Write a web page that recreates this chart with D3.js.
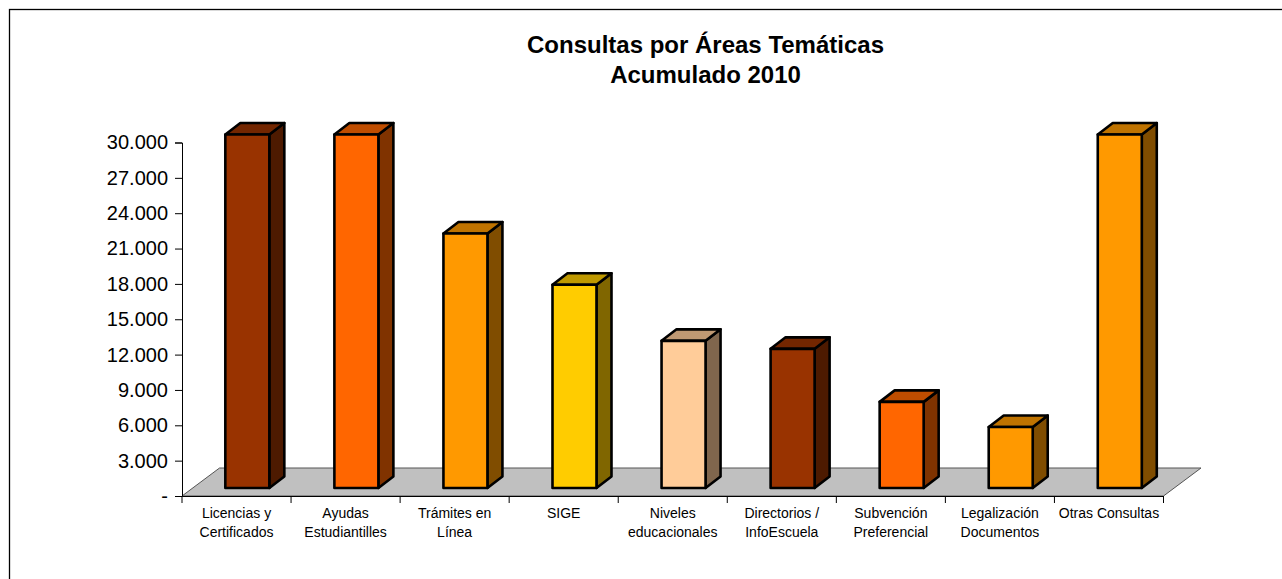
<!DOCTYPE html>
<html>
<head>
<meta charset="utf-8">
<script src="https://cdn.jsdelivr.net/npm/d3@7"></script>
<style>
html, body { margin: 0; padding: 0; background: #fff; overflow: hidden; }
text { font-family: "Liberation Sans", Arial, sans-serif; fill: #000; }
</style>
</head>
<body>
<div id="chart"></div>
<script>
const titleLines = ["Consultas por Áreas Temáticas", "Acumulado 2010"];
const categories = [
	"Licencias y|Certificados", "Ayudas|Estudiantilles", "Trámites en|Línea",
	"SIGE", "Niveles|educacionales", "Directorios /|InfoEscuela",
	"Subvención|Preferencial", "Legalización|Documentos", "Otras Consultas"
];
const values = [30000, 30000, 21600, 17250, 12490, 11810, 7310, 5180, 30000];
const fronts = ["#993300", "#ff6600", "#ff9900", "#ffcc00", "#ffcc99", "#993300", "#ff6600", "#ff9900", "#ff9900"];
const tickValues = d3.range(0, 30001, 3000);

const w = 1282, h = 579;
const axisLeft = 182, axisRight = 1163.5, axisBottom = 496, axisTop = 142.5;

// depth of the floor and of each bar, the bars stand in the middle of the floor
const floorDepth = { x: 37.5, y: -28 };
const barDepth = { x: 15, y: -11.5 };
const barShift = { x: 10.8, y: -8 };

// excel style shading, top and side are the front colour made darker
const shade = (c, k) => {
	let r = d3.rgb(c);
	return d3.rgb(r.r * k, r.g * k, r.b * k).formatHex();
};

let svg = d3.select("#chart").append("svg").attr("width", w).attr("height", h);

svg.append("rect")
	.attr("x", 9.5).attr("y", 9.5)
	.attr("width", 1290).attr("height", 590)
	.attr("fill", "#fff").attr("stroke", "#000").attr("stroke-width", 1.3);

svg.append("text")
	.attr("text-anchor", "middle")
	.attr("font-weight", "bold")
	.attr("font-size", 24)
	.selectAll("tspan")
	.data(titleLines)
	.join("tspan")
	.attr("x", 705.5)
	.attr("y", (d, i) => 52.5 + i * 30)
	.text(d => d);

let x = d3.scaleBand().domain(categories).range([axisLeft, axisRight]);
let y = d3.scaleLinear().domain([0, 30000]).range([axisBottom, axisTop]);

// floor
let line = d3.line();
svg.append("path")
	.attr("d", line([
		[axisLeft, axisBottom],
		[axisLeft + floorDepth.x, axisBottom + floorDepth.y],
		[axisRight + floorDepth.x, axisBottom + floorDepth.y],
		[axisRight, axisBottom]
	]) + "Z")
	.attr("fill", "#c0c0c0")
	.attr("stroke", "#555")
	.attr("stroke-width", 1);

// axes
let yAxis = d3.axisLeft(y)
	.tickValues(tickValues)
	.tickSize(7)
	.tickPadding(7)
	.tickFormat(d => d === 0 ? "-" : d3.format(",")(d).replace(/,/g, "."));
let yG = svg.append("g").attr("transform", `translate(${axisLeft},0)`).call(yAxis);
yG.selectAll("text").attr("font-size", 20);

let xAxis = d3.axisBottom(x).tickValues([]).tickSize(0);
let xG = svg.append("g").attr("transform", `translate(0,${axisBottom})`).call(xAxis);
xG.selectAll(".tick-mark")
	.data(d3.range(categories.length + 1))
	.join("line")
	.attr("class", "tick-mark")
	.attr("x1", i => axisLeft + i * x.step())
	.attr("x2", i => axisLeft + i * x.step())
	.attr("y1", 0).attr("y2", 7)
	.attr("stroke", "#000");
svg.selectAll("path.domain").attr("stroke", "#000").attr("stroke-width", 1);

// category labels
let labels = svg.append("g").selectAll("text")
	.data(categories)
	.join("text")
	.attr("text-anchor", "middle")
	.attr("font-size", 14);
labels.selectAll("tspan")
	.data(d => d.split("|").map(t => ({ t, c: d })))
	.join("tspan")
	.attr("x", d => x(d.c) + x.bandwidth() / 2)
	.attr("y", (d, i) => 518 + i * 19)
	.text(d => d.t);

// bars
const barW = 44;
let bars = svg.append("g").selectAll("g")
	.data(categories.map((c, i) => ({ c, v: values[i], f: fronts[i] })))
	.join("g")
	.attr("stroke", "#000")
	.attr("stroke-width", 2.6)
	.attr("stroke-linejoin", "round");

function barBox(d) {
	let x0 = x(d.c) + (x.bandwidth() - barW) / 2 + barShift.x;
	let y0 = axisBottom + barShift.y;
	let yT = y(d.v) + barShift.y;
	return { x0, x1: x0 + barW, y0, yT };
}

// side
bars.append("path")
	.attr("d", d => {
		let b = barBox(d);
		return line([[b.x1, b.y0], [b.x1 + barDepth.x, b.y0 + barDepth.y], [b.x1 + barDepth.x, b.yT + barDepth.y], [b.x1, b.yT]]) + "Z";
	})
	.attr("fill", d => shade(d.f, 0.5));
// top
bars.append("path")
	.attr("d", d => {
		let b = barBox(d);
		return line([[b.x0, b.yT], [b.x0 + barDepth.x, b.yT + barDepth.y], [b.x1 + barDepth.x, b.yT + barDepth.y], [b.x1, b.yT]]) + "Z";
	})
	.attr("fill", d => shade(d.f, 0.75));
// front
bars.append("rect")
	.attr("x", d => barBox(d).x0)
	.attr("y", d => barBox(d).yT)
	.attr("width", barW)
	.attr("height", d => barBox(d).y0 - barBox(d).yT)
	.attr("fill", d => d.f);
</script>
</body>
</html>
